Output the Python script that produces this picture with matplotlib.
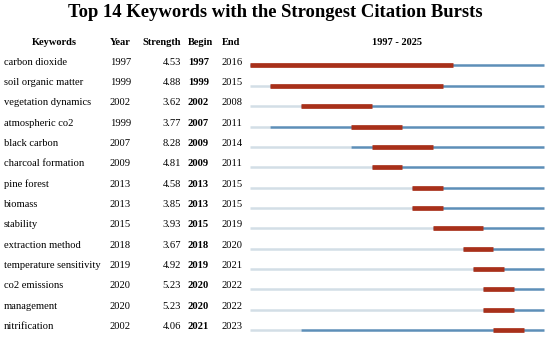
import matplotlib.pyplot as plt

keywords = ["carbon dioxide", "soil organic matter", "vegetation dynamics", "atmospheric co2",
            "black carbon", "charcoal formation", "pine forest", "biomass", "stability",
            "extraction method", "temperature sensitivity", "co2 emissions", "management",
            "nitrification"]
year = [1997, 1999, 2002, 1999, 2007, 2009, 2013, 2013, 2015, 2018, 2019, 2020, 2020, 2002]
strength = [4.53, 4.88, 3.62, 3.77, 8.28, 4.81, 4.58, 3.85, 3.93, 3.67, 4.92, 5.23, 5.23, 4.06]
begin = [1997, 1999, 2002, 2007, 2009, 2009, 2013, 2013, 2015, 2018, 2019, 2020, 2020, 2021]
end = [2016, 2015, 2008, 2011, 2014, 2011, 2015, 2015, 2019, 2020, 2021, 2022, 2022, 2023]
first_year, last_year = 1997, 2025

serif = "Liberation Serif"
W, H = 550, 341
fig = plt.figure(figsize=(W / 100, H / 100), dpi=100)

# row r sits at pixel 62 + 20.35*r
row_h, row0 = 20.35, 62
ylim = ((H - row0) / row_h, -row0 / row_h)

ax = fig.add_axes([0, 0, 1, 1])
ax.set_xlim(0, W)
ax.set_ylim(*ylim)
ax.axis("off")

# timeline axes: 1997 starts at px 250, ~10.14 px per year
px_yr = 10.14
ax2 = fig.add_axes([0, 0, 1, 1])
ax2.set_xlim(first_year - 250 / px_yr, first_year + (W - 250) / px_yr)
ax2.set_ylim(*ylim)
ax2.axis("off")

def py(p):
    return (p - row0) / row_h

ax.text(W / 2, py(12.5), "Top 14 Keywords with the Strongest Citation Bursts", ha="center",
        va="center", fontsize=13.4, fontweight="bold", family=serif)

hy = py(42)
hdr = dict(va="center", fontsize=7.5, fontweight="bold", family=serif)
ax.text(54, hy, "Keywords", ha="center", **hdr)
ax.text(110, hy, "Year", ha="left", **hdr)
ax.text(181, hy, "Strength", ha="right", **hdr)
ax.text(188, hy, "Begin", ha="left", **hdr)
ax.text(222, hy, "End", ha="left", **hdr)
ax2.text((first_year + last_year + 1) / 2, hy, f"{first_year} - {last_year}", ha="center", **hdr)

fs = 7.6
grey, blue, red = "#d3dee6", "#5d8fb8", "#a8301a"
off = 0.17
for i, kw in enumerate(keywords):
    ax.text(4, i, kw, ha="left", va="center", fontsize=fs, family=serif)
    ax.text(110, i, str(year[i]), ha="left", va="center", fontsize=fs, family=serif)
    ax.text(181, i, f"{strength[i]:.2f}", ha="right", va="center", fontsize=fs, family=serif)
    ax.text(188, i, str(begin[i]), ha="left", va="center", fontsize=fs, family=serif,
            fontweight="bold")
    ax.text(222, i, str(end[i]), ha="left", va="center", fontsize=fs, family=serif)

    y = i + off
    if year[i] > first_year:
        ax2.plot([first_year, year[i]], [y, y], color=grey, lw=1.8, solid_capstyle="butt")
    ax2.plot([year[i], last_year + 1], [y, y], color=blue, lw=1.8, solid_capstyle="butt")
    ax2.plot([begin[i], end[i] + 1], [y, y], color=red, lw=3.4, solid_capstyle="butt")

fig.savefig("out.png", dpi=100)
